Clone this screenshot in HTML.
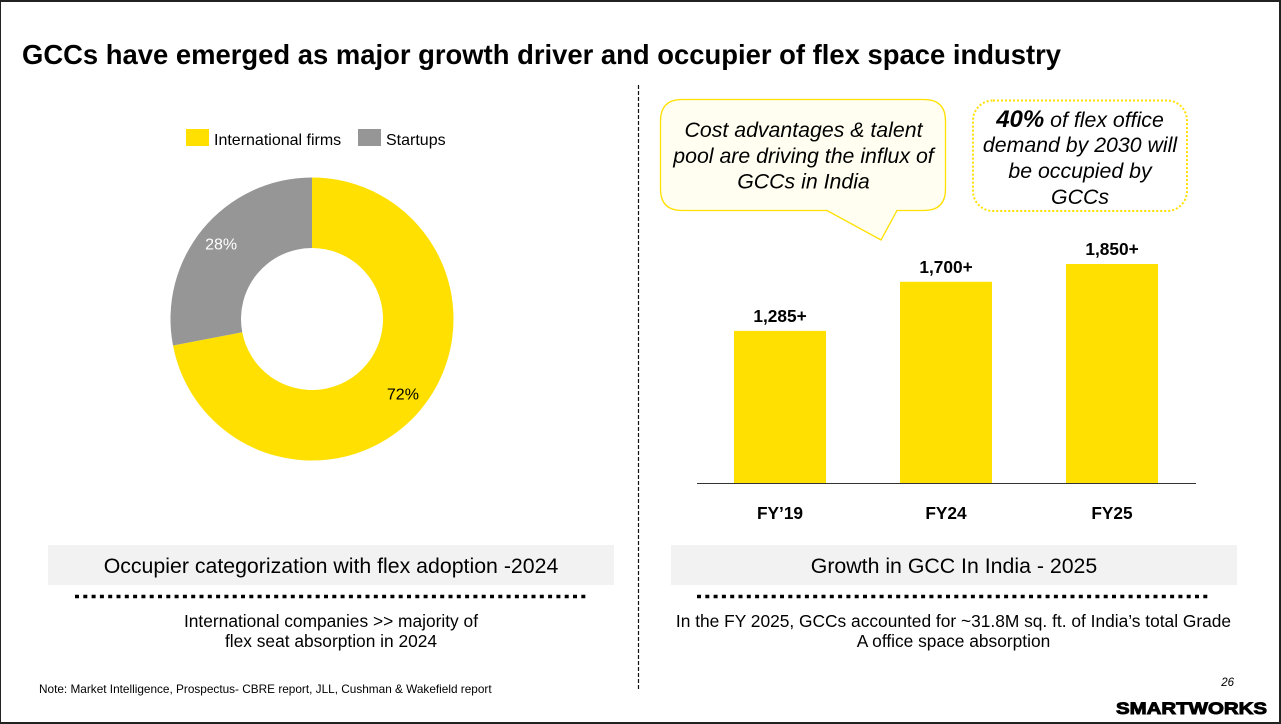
<!DOCTYPE html>
<html lang="en">
<head>
<meta charset="utf-8">
<title>GCCs and flex space</title>
<style>
html,body{margin:0;padding:0;background:#fff;}
body{width:1281px;height:724px;overflow:hidden;position:relative;}
svg{position:absolute;left:0;top:0;display:block;}
text{font-family:"Liberation Sans",sans-serif;fill:#000;}
</style>
</head>
<body>
<svg id="slide" width="1281" height="724" viewBox="0 0 1281 724" xmlns="http://www.w3.org/2000/svg">
  <rect x="0" y="0" width="1281" height="2" fill="#222"/>
  <rect x="0" y="722" width="1281" height="2" fill="#222"/>
  <rect x="1279" y="0" width="2" height="724" fill="#222"/>
  <rect x="0" y="0" width="1" height="724" fill="#222"/>

  <text x="22" y="64" font-size="28" font-weight="700" textLength="1039" lengthAdjust="spacingAndGlyphs">GCCs have emerged as major growth driver and occupier of flex space industry</text>

  <line x1="638.500" y1="85" x2="638.500" y2="689" stroke="#111" stroke-width="1.200" stroke-dasharray="4 2"/>

  <g>
    <rect x="186" y="129" width="23" height="17" fill="#ffe000"/>
    <text x="214" y="145" font-size="16">International firms</text>
    <rect x="358" y="129" width="23" height="17" fill="#969696"/>
    <text x="386" y="145" font-size="16">Startups</text>
  </g>

  <g id="donut"></g>
  <g id="bars"></g>

  <path d="M682 99.500H924Q945.500 99.500 945.500 121V189Q945.500 210.500 924 210.500H897L881 240L827 210.500H682Q660.500 210.500 660.500 189V121Q660.500 99.500 682 99.500Z" fill="#fffef0" stroke="#ffe000" stroke-width="1.300"/>
  <g font-size="21.300" font-style="italic" text-anchor="middle">
    <text x="803.500" y="137">Cost advantages &amp; talent</text>
    <text x="803.500" y="163">pool are driving the influx of</text>
    <text x="803.500" y="188.500">GCCs in India</text>
  </g>

  <rect x="973" y="100.500" width="214" height="110.500" rx="20" ry="20" fill="#fff" stroke="#ffe000" stroke-width="2" stroke-dasharray="2 2"/>
  <g font-size="21.300" font-style="italic" text-anchor="middle">
    <text x="1080" y="127"><tspan font-weight="700" font-size="24">40%</tspan> of flex office</text>
    <text x="1080" y="152">demand by 2030 will</text>
    <text x="1080" y="178">be occupied by</text>
    <text x="1080" y="204">GCCs</text>
  </g>

  <rect x="48" y="545" width="566" height="40" fill="#f2f2f2"/>
  <text x="331" y="573" font-size="21.300" text-anchor="middle">Occupier categorization with flex adoption -2024</text>
  <line x1="75" y1="596.500" x2="588" y2="596.500" stroke="#000" stroke-width="3.500" stroke-dasharray="4 4.300"/>
  <text x="331" y="627" font-size="17.350" text-anchor="middle">International companies &gt;&gt; majority of</text>
  <text x="331" y="647" font-size="17.350" text-anchor="middle">flex seat absorption in 2024</text>

  <rect x="671" y="545" width="566" height="40" fill="#f2f2f2"/>
  <text x="954" y="573" font-size="21.300" text-anchor="middle">Growth in GCC In India - 2025</text>
  <line x1="697" y1="596.500" x2="1210" y2="596.500" stroke="#000" stroke-width="3.500" stroke-dasharray="4 4.300"/>
  <text x="953.500" y="627" font-size="17.350" text-anchor="middle">In the FY 2025, GCCs accounted for ~31.8M sq. ft. of India’s total Grade</text>
  <text x="953.500" y="647" font-size="17.350" text-anchor="middle">A office space absorption</text>

  <text x="39" y="693" font-size="11.800">Note: Market Intelligence, Prospectus- CBRE report, JLL, Cushman &amp; Wakefield report</text>
  <text x="1234" y="686" font-size="11.500" font-style="italic" text-anchor="end">26</text>
  <text x="1116" y="714" font-size="17" font-weight="700" stroke="#000" stroke-width="0.900" textLength="151" lengthAdjust="spacingAndGlyphs">SMARTWORKS</text>
</svg>
<script>
const donutCategories = ["International firms", "Startups"];
const donutValues = [72, 28];
const donutLabels = ["72%", "28%"];
const barCategories = ["FY’19", "FY24", "FY25"];
const barValues = [1285, 1700, 1850];
const barLabels = ["1,285+", "1,700+", "1,850+"];

const SVG_NS = "http://www.w3.org/2000/svg";

function make(tag, attrs, parent) {
  const el = document.createElementNS(SVG_NS, tag);
  for (const key in attrs) el.setAttribute(key, attrs[key]);
  parent.appendChild(el);
  return el;
}

function drawDonut() {
  const group = document.getElementById("donut");
  const cx = 312, cy = 319, outer = 141.5, inner = 71;
  const colors = ["#ffe000", "#969696"];
  const labelColors = ["#000000", "#ffffff"];
  const labelRadius = 118;
  const total = donutValues.reduce((a, b) => a + b, 0);
  const angleOf = (v) => (v / total) * Math.PI * 2 - Math.PI / 2;
  const point = (r, a) => [cx + r * Math.cos(a), cy + r * Math.sin(a)];
  let running = 0;
  donutValues.forEach((value, i) => {
    const a0 = angleOf(running);
    const a1 = angleOf(running + value);
    const large = value / total > 0.5 ? 1 : 0;
    const p0 = point(outer, a0), p1 = point(outer, a1);
    const p2 = point(inner, a1), p3 = point(inner, a0);
    const slice = make("path", {
      d: `M${p0[0]} ${p0[1]}A${outer} ${outer} 0 ${large} 1 ${p1[0]} ${p1[1]}L${p2[0]} ${p2[1]}A${inner} ${inner} 0 ${large} 0 ${p3[0]} ${p3[1]}Z`,
      fill: colors[i]
    }, group);
    
    

    const mid = angleOf(running + value / 2);
    const lp = point(labelRadius, mid);
    const label = make("text", {
      x: lp[0],
      y: lp[1] + 5.5,
      "font-size": 16,
      "text-anchor": "middle",
      style: `fill:${labelColors[i]}`
    }, group);
    label.textContent = donutLabels[i];
    
    
    label.setAttribute('aria-label', donutCategories[i]);
    running += value;
  });
}

function drawBars() {
  const group = document.getElementById("bars");
  const baseline = 483, pxPerUnit = 219 / 1850, firstCenter = 780, step = 166, barWidth = 92;
  const xOf = (i) => firstCenter + step * i;
  const yOf = (v) => baseline - v * pxPerUnit;
  barValues.forEach((value, i) => {
    const bar = make("rect", {
      x: xOf(i) - barWidth / 2,
      y: yOf(value),
      width: barWidth,
      height: baseline - yOf(value),
      fill: "#ffe000"
    }, group);
    
    

    const valueLabel = make("text", {
      x: xOf(i),
      y: yOf(value) - 9,
      "font-size": 17.3,
      "font-weight": 700,
      "text-anchor": "middle"
    }, group);
    valueLabel.textContent = barLabels[i];
    
    

    const tick = make("text", {
      x: xOf(i),
      y: 519,
      "font-size": 17.3,
      "font-weight": 700,
      "text-anchor": "middle"
    }, group);
    tick.textContent = barCategories[i];
    
    
  });
  const axis = make("line", { x1: 697, y1: 483.5, x2: 1196, y2: 483.5, stroke: "#333", "stroke-width": 1 }, group);
  
  
}

drawDonut();
drawBars();
</script>
</body>
</html>
